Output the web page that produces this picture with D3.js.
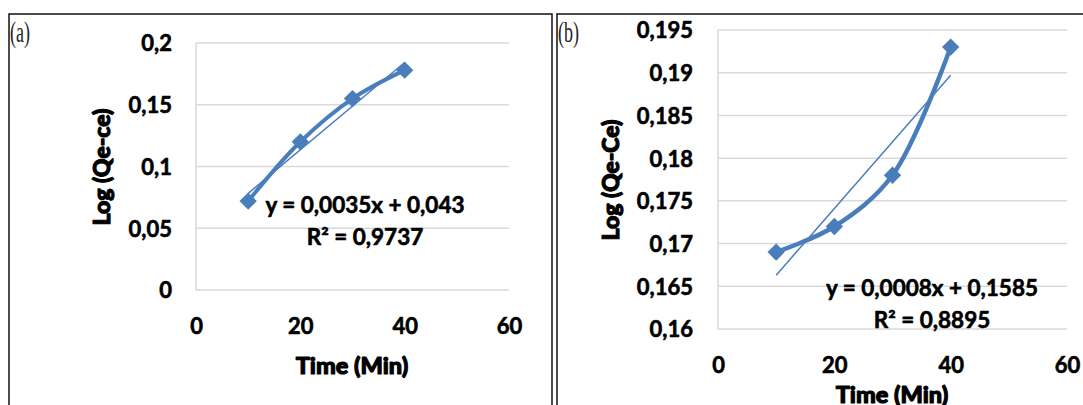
<!DOCTYPE html>
<html>
<head>
<meta charset="utf-8">
<script src="https://cdn.jsdelivr.net/npm/d3@7"></script>
<style>
  html, body { margin: 0; padding: 0; background: #fff; }
  svg { display: block; }
  text { font-family: Lato, "Open Sans", sans-serif; }
</style>
</head>
<body>
<svg id="chart" width="1083" height="405"></svg>
<script>
// ---- data ----
const timesA = [10, 20, 30, 40];
const valuesA = [0.072, 0.120, 0.155, 0.178];
const timesB = [10, 20, 30, 40];
const valuesB = [0.169, 0.172, 0.178, 0.193];
const xTicks = [0, 20, 40, 60];
const yTicksA = [0, 0.05, 0.1, 0.15, 0.2];
const yTicksB = [0.16, 0.165, 0.17, 0.175, 0.18, 0.185, 0.19, 0.195];
const eqA = ["y = 0,0035x + 0,043", "R² = 0,9737"];
const eqB = ["y = 0,0008x + 0,1585", "R² = 0,8895"];

const blue = "#4A7EBB";
const grid = "#d9d9d9";
const svg = d3.select("#chart");
const fmt = v => String(+v.toFixed(4)).replace(".", ",");

function fit(xs, ys) {
  const n = xs.length, mx = d3.mean(xs), my = d3.mean(ys);
  let sxy = 0, sxx = 0;
  for (let i = 0; i < n; i++) { sxy += (xs[i]-mx)*(ys[i]-my); sxx += (xs[i]-mx)**2; }
  const m = sxy / sxx;
  return { m, b: my - m*mx };
}

function bold(sel, w) {
  sel.attr("stroke", "#000").attr("stroke-width", w).attr("paint-order", "stroke")
     .attr("stroke-linejoin", "round");
}

function panel(cfg) {
  svg.append("rect").attr("x", cfg.frame[0]).attr("y", cfg.frame[1])
    .attr("width", cfg.frame[2]).attr("height", cfg.frame[3])
    .attr("fill", "none").attr("stroke", "#111").attr("stroke-width", 1.5);
  svg.append("text").attr("transform", `translate(${cfg.tag[0]},${cfg.tag[1]}) scale(0.6,1)`)
    .attr("font-size", 30).attr("fill", "#222")
    .style("font-family", "'Liberation Serif', serif").text(cfg.tagText);

  const x = d3.scaleLinear().domain([0, 60]).range(cfg.xr);
  const y = d3.scaleLinear().domain(cfg.yd).range(cfg.yr);
  const g = svg.append("g");

  g.selectAll(".gl").data(cfg.yTicks).join("line")
    .attr("x1", x(0)).attr("x2", x(60)).attr("y1", d => y(d)).attr("y2", d => y(d))
    .attr("stroke", grid).attr("stroke-width", 1.5);
  g.append("line").attr("x1", x(0)).attr("x2", x(0)).attr("y1", y(cfg.yd[0])).attr("y2", y(cfg.yd[1]))
    .attr("stroke", grid).attr("stroke-width", 1.5);

  const ya = d3.axisLeft(y).tickValues(cfg.yTicks).tickFormat(fmt).tickSize(0).tickPadding(0);
  const yg = g.append("g").attr("transform", `translate(${cfg.yLabelX},0)`).call(ya);
  yg.select(".domain").remove();
  yg.selectAll("text").attr("font-size", 22).attr("font-weight", 700).attr("fill", "#000")
    .style("font-family", "Lato, sans-serif").attr("dy", "0.36em").call(bold, 0.6);

  const xa = d3.axisBottom(x).tickValues(xTicks).tickFormat(d3.format("d")).tickSize(0).tickPadding(0);
  const xg = g.append("g").attr("transform", `translate(0,${cfg.xLabelY})`).call(xa);
  xg.select(".domain").remove();
  xg.selectAll("text").attr("font-size", 22).attr("font-weight", 700).attr("fill", "#000")
    .style("font-family", "Lato, sans-serif").attr("dy", "0.36em").call(bold, 0.6);

  g.append("text").attr("x", cfg.xTitle[0]).attr("y", cfg.xTitle[1]).attr("dy", "0.36em")
    .attr("text-anchor", "middle").attr("font-size", 23.5).attr("font-weight", 900)
    .text("Time (Min)").call(bold, 1.1);
  g.append("text").attr("transform", `translate(${cfg.yTitle[0]},${cfg.yTitle[1]}) rotate(-90)`)
    .attr("dy", "0.36em").attr("text-anchor", "middle").attr("font-size", 23).attr("font-weight", 900)
    .text(cfg.yTitleText).call(bold, 1.1);

  const f = fit(cfg.xs, cfg.ys);
  const x0 = d3.min(cfg.xs), x1 = d3.max(cfg.xs);
  g.append("line").attr("x1", x(x0)).attr("y1", y(f.m*x0+f.b)).attr("x2", x(x1)).attr("y2", y(f.m*x1+f.b))
    .attr("stroke", blue).attr("stroke-width", cfg.trendW);

  const pts = cfg.xs.map((d, i) => [d, cfg.ys[i]]);
  const line = d3.line().x(d => x(d[0])).y(d => y(d[1])).curve(d3.curveCatmullRom.alpha(0.5));
  g.append("path").attr("d", line(pts)).attr("fill", "none").attr("stroke", blue)
    .attr("stroke-width", cfg.lineW).attr("stroke-linejoin", "round");

  g.selectAll(".mk").data(pts).join("path")
    .attr("d", d3.symbol(d3.symbolSquare, 150)())
    .attr("transform", d => `translate(${x(d[0])},${y(d[1])}) rotate(45)`)
    .attr("fill", blue);

  g.selectAll(".eq").data(cfg.eq).join("text")
    .attr("x", cfg.eqPos[0]).attr("y", (d, i) => cfg.eqPos[1] + i*cfg.eqGap).attr("dy", "0.36em")
    .attr("text-anchor", "middle").attr("font-size", 22.5).attr("font-weight", 700).attr("fill", "#000")
    .text(d => d).call(bold, 0.6);
}

panel({
  frame: [9, 14, 543, 420], tag: [10, 42], tagText: "(a)",
  xr: [196, 509], yd: [0, 0.2], yr: [290, 43], yTicks: yTicksA,
  yLabelX: 172, xLabelY: 326, xTitle: [352, 366], yTitle: [102, 167], yTitleText: "Log (Qe-ce)",
  xs: timesA, ys: valuesA, trendW: 1.5, lineW: 4,
  eq: eqA, eqPos: [365, 205], eqGap: 32
});
panel({
  frame: [557, 14, 560, 420], tag: [558, 42], tagText: "(b)",
  xr: [718, 1067], yd: [0.16, 0.195], yr: [329, 30], yTicks: yTicksB,
  yLabelX: 693, xLabelY: 365, xTitle: [892, 395], yTitle: [611, 180], yTitleText: "Log (Qe-Ce)",
  xs: timesB, ys: valuesB, trendW: 1.5, lineW: 4.5,
  eq: eqB, eqPos: [932, 288], eqGap: 32
});
</script>
</body>
</html>
